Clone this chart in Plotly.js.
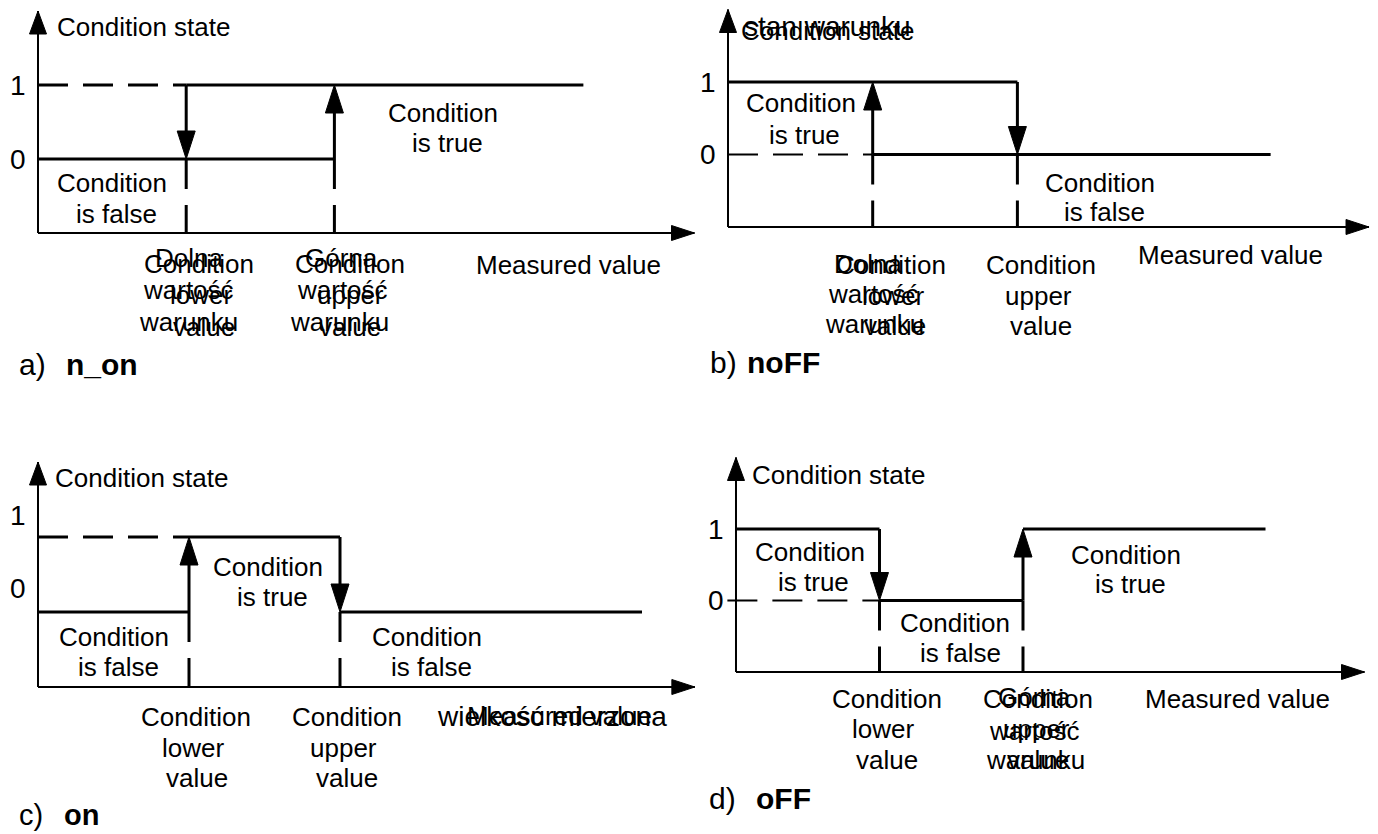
<!DOCTYPE html>
<html>
<head>
<meta charset="utf-8">
<script src="https://cdn.plot.ly/plotly-3.0.1.min.js"></script>
<style>
html, body { margin: 0; padding: 0; background: #fff; }
#chart { width: 1378px; height: 834px; }
</style>
</head>
<body>
<div id="chart"></div>
<script>
var W = 1378, H = 834;
var FONT = "Liberation Sans, Arial, sans-serif";

// measured value: 0 = axis origin, 1 = lower limit, 2 = upper limit
var limits = [1, 2];
var tickText = ["0", "1"];

// a) n_on
var aSolidX = [[0, 2], [1, 3.68]];
var aSolidY = [[0, 0], [1, 1]];
var aDashX = [0, 1];
var aDashY = [1, 1];
var aArrowFrom = [1, 0];
var aArrowTo = [0, 1];
var aAxisEnd = 4.43;
var aTickY = [0, 1];

// b) noFF
var bSolidX = [[0, 2], [1, 3.75]];
var bSolidY = [[1, 1], [0, 0]];
var bDashX = [0, 1];
var bDashY = [0, 0];
var bArrowFrom = [0, 1];
var bArrowTo = [1, 0];
var bAxisEnd = 4.43;
var bTickY = [0, 1];

// c) on
var cSolidX = [[0, 1], [1, 2], [2, 4.0]];
var cSolidY = [[0, 0], [1, 1], [0, 0]];
var cDashX = [0, 1];
var cDashY = [1, 1];
var cArrowFrom = [0, 1];
var cArrowTo = [1, 0];
var cAxisEnd = 4.35;
var cTickY = [0.32, 1.29];

// d) oFF
var dSolidX = [[0, 1], [1, 2], [2, 3.69]];
var dSolidY = [[1, 1], [0, 0], [1, 1]];
var dDashX = [-0.06, 1];
var dDashY = [0, 0];
var dArrowFrom = [1, 0];
var dArrowTo = [0, 1];
var dAxisEnd = 4.38;
var dTickY = [0, 1];

// pixel placement of each panel: origin of axes (y = -1 line) and unit size
var panelOrigin = [[38, 233], [728, 227], [38, 687], [736, 672]];
var panelUnit = [[148.2, 74], [144.7, 72.5], [151, 75], [143.5, 71.5]];

var traces = [];
var annotations = [];
var layout = {
    width: W,
    height: H,
    margin: {l: 0, r: 0, t: 0, b: 0},
    paper_bgcolor: "#fff",
    plot_bgcolor: "rgba(0,0,0,0)",
    showlegend: false,
    annotations: annotations
};

function txt(px, py, s, size, anchor) {
    annotations.push({
        xref: "paper", yref: "paper",
        x: px / W, y: 1 - py / H,
        text: s, showarrow: false,
        xanchor: anchor || "center", yanchor: "middle",
        font: {family: FONT, size: size || 26, color: "#000"}
    });
}

function addPanel(i, solidX, solidY, dashX, dashY, dashW, arrowFrom, arrowTo, axisEnd, tickY) {
    var ox = panelOrigin[i][0], oy = panelOrigin[i][1];
    var ux = panelUnit[i][0], uy = panelUnit[i][1];
    var sfx = i === 0 ? "" : String(i + 1);
    var xa = "x" + sfx, ya = "y" + sfx;
    var xr = [-0.15, axisEnd + 0.05];
    var yr = [-1.3, 2.1];
    layout["xaxis" + sfx] = {
        range: xr, visible: false, fixedrange: true, anchor: ya,
        domain: [(ox + xr[0] * ux) / W, (ox + xr[1] * ux) / W]
    };
    layout["yaxis" + sfx] = {
        range: yr, visible: false, fixedrange: true, anchor: xa,
        domain: [1 - (oy - (yr[0] + 1) * uy) / H, 1 - (oy - (yr[1] + 1) * uy) / H]
    };

    function line(x, y, w, dash) {
        traces.push({
            x: x, y: y, xaxis: xa, yaxis: ya, mode: "lines",
            line: {color: "#000", width: w, dash: dash || "solid"},
            hoverinfo: "skip"
        });
    }
    function tri(tx, ty, dir, len, hw) {
        var xs, ys;
        if (dir === "right") {
            xs = [tx, tx - len / ux, tx - len / ux, tx];
            ys = [ty, ty + hw / uy, ty - hw / uy, ty];
        } else {
            var s = dir === "up" ? 1 : -1;
            xs = [tx, tx - hw / ux, tx + hw / ux, tx];
            ys = [ty, ty - s * len / uy, ty - s * len / uy, ty];
        }
        traces.push({
            x: xs, y: ys, xaxis: xa, yaxis: ya, mode: "lines",
            fill: "toself", fillcolor: "#000",
            line: {color: "#000", width: 1},
            hoverinfo: "skip"
        });
    }

    // axes with arrows
    line([0, axisEnd], [-1, -1], 2);
    line([0, 0], [-1, 2], 2);
    tri(axisEnd, -1, "right", 23, 7.5);
    tri(0, 2, "up", 23, 8.5);

    // dashed (inactive) level
    line(dashX, dashY, dashW, "30px,15px");

    // condition state lines
    for (var k = 0; k < solidX.length; k++) {
        line(solidX[k], solidY[k], 3);
    }

    // switching arrows at the limits and dashed drop lines
    for (var j = 0; j < limits.length; j++) {
        var L = limits[j];
        var dir = arrowTo[j] > arrowFrom[j] ? "up" : "down";
        var base = arrowTo[j] - (dir === "up" ? 1 : -1) * 26 / uy;
        line([L, L], [arrowFrom[j], base], 3);
        tri(L, arrowTo[j], dir, 28, 9);
        line([L, L], [0, -1], 3, "30px,16px");
    }

    // tick labels of the state axis
    for (var t = 0; t < tickY.length; t++) {
        txt(ox - 10, oy - (tickY[t] + 1) * uy, tickText[t], 28, "right");
    }
}

addPanel(0, aSolidX, aSolidY, aDashX, aDashY, 3, aArrowFrom, aArrowTo, aAxisEnd, aTickY);
addPanel(1, bSolidX, bSolidY, bDashX, bDashY, 2, bArrowFrom, bArrowTo, bAxisEnd, bTickY);
addPanel(2, cSolidX, cSolidY, cDashX, cDashY, 3, cArrowFrom, cArrowTo, cAxisEnd, cTickY);
addPanel(3, dSolidX, dSolidY, dDashX, dDashY, 2, dArrowFrom, dArrowTo, dAxisEnd, dTickY);

// a) n_on
txt(55, 27, "Condition state", 26, "left");
txt(443, 113, "Condition"); txt(447, 143, "is true");
txt(112, 183, "Condition"); txt(116, 214, "is false");
txt(189, 258, "Dolna"); txt(188, 290, "wartość"); txt(189, 322, "warunku");
txt(199, 264, "Condition"); txt(201, 295, "lower"); txt(204, 327, "value");
txt(341, 258, "Górna"); txt(342, 290, "wartość"); txt(339, 322, "warunku");
txt(350, 264, "Condition"); txt(350, 295, "upper"); txt(350, 327, "value");
txt(568, 265, "Measured value");
txt(17, 365, "a)", 30, "left");
txt(64, 365, "<b>n_on</b>", 30, "left");

// b) noFF
txt(739, 31, "Condition state", 26, "left");
txt(742, 26, "stan warunku", 28, "left");
txt(801, 103, "Condition"); txt(804, 135, "is true");
txt(1100, 183, "Condition"); txt(1104, 212, "is false");
txt(868, 264, "Dolna"); txt(873, 294, "wartość"); txt(874, 324, "warunku");
txt(891, 265, "Condition"); txt(893, 296, "lower"); txt(895, 326, "value");
txt(1041, 265, "Condition"); txt(1038, 296, "upper"); txt(1041, 326, "value");
txt(1230, 255, "Measured value");
txt(708, 363, "b)", 30, "left");
txt(745, 363, "<b>noFF</b>", 30, "left");

// c) on
txt(53, 478, "Condition state", 26, "left");
txt(268, 567, "Condition"); txt(272, 597, "is true");
txt(114, 637, "Condition"); txt(118, 667, "is false");
txt(427, 637, "Condition"); txt(431, 667, "is false");
txt(196, 717, "Condition"); txt(193, 748, "lower"); txt(197, 778, "value");
txt(347, 717, "Condition"); txt(343, 748, "upper"); txt(347, 778, "value");
txt(465, 716, "Measured value", 26, "left");
txt(435, 716, "wielkość mierzona", 28, "left");
txt(17, 815, "c)", 29, "left");
txt(62, 815, "<b>on</b>", 29, "left");

// d) oFF
txt(750, 475, "Condition state", 26, "left");
txt(810, 552, "Condition"); txt(813, 582, "is true");
txt(955, 623, "Condition"); txt(960, 653, "is false");
txt(1126, 555, "Condition"); txt(1130, 584, "is true");
txt(887, 699, "Condition"); txt(883, 729, "lower"); txt(887, 760, "value");
txt(1038, 699, "Condition"); txt(1036, 729, "upper"); txt(1038, 760, "value");
txt(1034, 697, "Górna"); txt(1034, 731, "wartość"); txt(1035, 760, "warunku");
txt(1237, 699, "Measured value");
txt(707, 798, "d)", 30, "left");
txt(754, 798, "<b>oFF</b>", 30, "left");

Plotly.newPlot("chart", traces, layout, {staticPlot: true, displayModeBar: false});
</script>
</body>
</html>
